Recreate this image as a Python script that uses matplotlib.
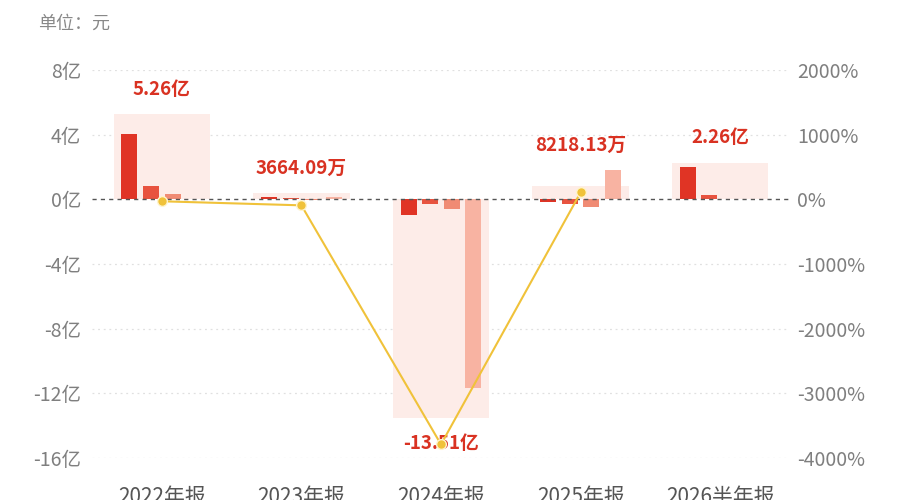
import matplotlib
matplotlib.use("Agg")
import numpy as np
from matplotlib import pyplot as plt

# data (亿元)
categories = ["2022年报", "2023年报", "2024年报", "2025年报", "2026半年报"]
q1 = [4.04, 0.12, -0.94, -0.17, 1.97]
q2 = [0.84, 0.10, -0.29, -0.30, 0.29]
q3 = [0.33, -0.02, -0.60, -0.50, np.nan]
q4 = [0.05, 0.17, -11.68, 1.80, np.nan]
totals = [5.26, 0.3664, -13.51, 0.8218, 2.26]
total_labels = ["5.26亿", "3664.09万", "-13.51亿", "8218.13万", "2.26亿"]
growth = [-30, -93, -3790, 106, np.nan]  # %

left_ticks = [8, 4, 0, -4, -8, -12, -16]
right_ticks = [2000, 1000, 0, -1000, -2000, -3000, -4000]

fonts = ["Noto Sans CJK SC", "DejaVu Sans"]
plt.rcParams['font.family'] = fonts

bar_colors = ["#e03425", "#e8533f", "#f08b74", "#f8b3a2"]
label_red = "#d93222"
grey = "#7f7f7f"

fig = plt.figure(figsize=(9, 5), dpi=100)
ax = fig.add_axes([92 / 900, 42 / 500, 698 / 900, 388 / 500])
ax2 = ax.twinx()

x = np.arange(len(categories))
offsets = [-0.2325, -0.0775, 0.0775, 0.2325]
bw = 0.115

# background total blocks
ax.bar(x, totals, width=0.69, color="#fdece8", zorder=1)

for vals, off, c in zip([q1, q2, q3, q4], offsets, bar_colors):
    ax.bar(x + off, vals, width=bw, color=c, zorder=2)

# total labels
for i, (t, lab) in enumerate(zip(totals, total_labels)):
    vals = [t] + [v[i] for v in (q1, q2, q3, q4) if not np.isnan(v[i])]
    if t >= 0:
        y = max(vals)
        dy = 25
    else:
        y = min(vals)
        dy = -26
    ax.annotate(lab, (x[i], y), xytext=(0, dy), textcoords="offset pixels",
                ha="center", va="center", color=label_red, fontsize=13.5,
                fontweight="bold", zorder=5)

ax.set_xlim(-0.5, len(categories) - 0.5)
ax.set_ylim(-16, 8)
ax2.set_ylim(-4000, 2000)

# grid lines
for t in left_ticks:
    if t == 0:
        ax.axhline(0, color="#555555", lw=1, ls=(0, (3, 3)), zorder=3)
    else:
        ax.axhline(t, color="#e0e0e0", lw=0.9, ls=(0, (1.5, 3)), zorder=0)

ax2.plot(x, growth, color="#f0c23a", lw=1.5, marker="o", markersize=7,
         markerfacecolor="#f0c23a", markeredgecolor="#fff4cc", markeredgewidth=1,
         zorder=6)
ax2.set_zorder(ax.get_zorder() + 1)
ax2.patch.set_visible(False)

ax.set_yticks(left_ticks)
ax.set_yticklabels([f"{t}亿" for t in left_ticks], fontsize=14, color=grey)
ax2.set_yticks(right_ticks)
ax2.set_yticklabels([f"{t}%" for t in right_ticks], fontsize=14, color=grey)
ax.set_xticks(x)
ax.set_xticklabels(categories, fontsize=15, color="#555555")

for a in (ax, ax2):
    for s in a.spines.values():
        s.set_visible(False)
    a.tick_params(length=0)
ax.tick_params(axis="y", pad=8)
ax2.tick_params(axis="y", pad=5)
ax.tick_params(axis="x", pad=20)

fig.text(38 / 900, 1 - 24 / 500, "单位：元", fontsize=13, color="#888888",
         ha="left", va="center")

fig.savefig("out.png", dpi=100)
